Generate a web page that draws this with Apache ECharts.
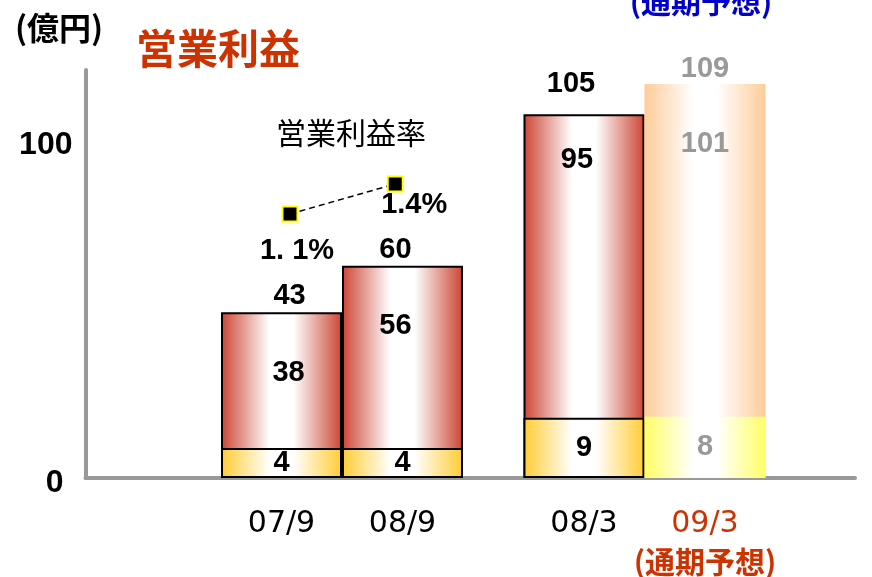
<!DOCTYPE html>
<html>
<head>
<meta charset="utf-8">
<script src="https://cdn.jsdelivr.net/npm/echarts@6/dist/echarts.min.js"></script>
<style>
  html, body { margin: 0; padding: 0; background: #fff; }
  #main { width: 872px; height: 577px; }
</style>
</head>
<body>
<div id="main"></div>
<script>
// 期間 (x 軸上の位置は 08/9 と 08/3 の間に半本分の空きがある)
const categories = ['07/9', '08/9', '08/3', '09/3']
const categoryPos = [0, 1, 2.5, 3.5]
const isForecast = [false, false, false, true]

// 棒の高さ (軸目盛りから読み取り)
const lowerHeights = [9.0, 9.0, 18.1, 18.4]
const upperHeights = [40.8, 54.7, 91.1, 99.9]

// 棒に書かれた数値
const lowerLabels = ['4', '4', '9', '8']
const upperLabels = ['38', '56', '95', '101']
const totalLabels = ['43', '60', '105', '109']

// 営業利益率
const marginValues = [1.1, 1.4]
const marginPos = [0.07, 0.94]
const marginLabels = ['1. 1%', '1.4%']

const yTicks = [0, 100]

const RED = '#CC3300'
const GRAY = '#999999'

function grad(edge) {
  return new echarts.graphic.LinearGradient(0, 0, 1, 0, [
    { offset: 0, color: edge },
    { offset: 0.4, color: '#ffffff' },
    { offset: 0.6, color: '#ffffff' },
    { offset: 1, color: edge }
  ])
}

const numFont = { fontFamily: '"Liberation Sans", Arial, sans-serif', fontWeight: 'bold', fontSize: 29, lineHeight: 29 }

// ラベルの微調整
const upperLabelStyle = [
  { distance: 46, offset: [7, 0] },
  { distance: 46, offset: [-7, 0] },
  { distance: 31, offset: [-7, 0] },
  { distance: 46, offset: [0, 0] }
]
const totalLabelStyle = [
  { distance: 2, offset: [8, 0] },
  { distance: 1, offset: [-7, 0] },
  { distance: 16, offset: [-13, 0] },
  { distance: 0, offset: [0, 0] }
]
const marginLabelOffset = [[7, 37], [19, 21]]

// 上段は合計の高さまで描き、その上に下段を重ねる
const totals = upperHeights.map((v, i) => v + lowerHeights[i])

const upperData = totals.map((v, i) => ({
  value: [categoryPos[i], v],
  itemStyle: isForecast[i]
    ? { color: grad('#FFCC99'), borderWidth: 0 }
    : { color: grad('#CC4433'), borderColor: '#000', borderWidth: 2 },
  label: Object.assign({ formatter: upperLabels[i], color: isForecast[i] ? GRAY : '#000' }, upperLabelStyle[i])
}))

const lowerData = lowerHeights.map((v, i) => ({
  value: [categoryPos[i], v],
  itemStyle: isForecast[i]
    ? { color: grad('#FFFF66'), borderWidth: 0 }
    : { color: grad('#FFCC33'), borderColor: '#000', borderWidth: 2 },
  label: { formatter: lowerLabels[i], color: isForecast[i] ? GRAY : '#000' }
}))

const totalData = totals.map((v, i) => ({
  value: [categoryPos[i], v],
  label: Object.assign({ formatter: totalLabels[i], color: isForecast[i] ? GRAY : '#000' }, totalLabelStyle[i])
}))

const marginData = marginValues.map((v, i) => ({
  value: [marginPos[i], v],
  label: { formatter: marginLabels[i], offset: marginLabelOffset[i] }
}))

const chart = echarts.init(document.getElementById('main'))

chart.setOption({
  animation: false,
  grid: { left: 85.5, right: 17, top: 70, bottom: 99 },
  xAxis: {
    type: 'value',
    min: -1.62,
    max: 4.74,
    splitLine: { show: false },
    axisTick: { show: false },
    axisLine: { show: true, onZero: false, lineStyle: { color: GRAY, width: 4 } },
    axisLabel: {
      customValues: categoryPos,
      margin: 32,
      formatter: (val) => {
        const i = categoryPos.indexOf(val)
        if (i < 0) return ''
        return isForecast[i] ? '{r|' + categories[i] + '}\n{rb|(通期予想)}' : '{n|' + categories[i] + '}'
      },
      rich: {
        n: { fontFamily: '"DejaVu Sans", sans-serif', fontSize: 30, lineHeight: 28, color: '#000' },
        r: { fontFamily: '"DejaVu Sans", sans-serif', fontSize: 30, lineHeight: 28, color: RED },
        rb: { fontFamily: '"Noto Sans CJK JP", sans-serif', fontWeight: 'bold', fontSize: 30, lineHeight: 48, color: RED }
      }
    }
  },
  yAxis: [{
    type: 'value',
    min: 0,
    max: 122.5,
    splitLine: { show: false },
    axisTick: { show: false },
    axisLine: { show: true, onZero: false, lineStyle: { color: GRAY, width: 4 } },
    axisLabel: {
      customValues: yTicks,
      margin: 13,
      formatter: (v) => (v === 0 ? '{z|' + v + '}' : '{h|' + v + '}'),
      rich: {
        h: Object.assign({ color: '#000' }, numFont, { fontSize: 32, lineHeight: 32 }),
        z: Object.assign({ color: '#000', padding: [10, 9, 0, 0] }, numFont, { fontSize: 32, lineHeight: 32 })
      }
    }
  }, {
    type: 'value',
    min: -1.54,
    max: 2.54,
    show: false
  }],
  series: [{
    name: '営業利益',
    type: 'bar',
    barWidth: 121,
    barGap: '-100%',
    label: Object.assign({ show: true, position: 'insideTop' }, numFont),
    data: upperData
  }, {
    name: '下段',
    type: 'bar',
    barWidth: 121,
    barGap: '-100%',
    z: 3,
    label: Object.assign({ show: true, position: 'inside' }, numFont),
    data: lowerData
  }, {
    name: '合計',
    type: 'scatter',
    symbolSize: 0,
    z: 4,
    itemStyle: { opacity: 1 },
    label: Object.assign({ show: true, position: 'top' }, numFont),
    data: totalData
  }, {
    name: '営業利益率',
    type: 'line',
    yAxisIndex: 1,
    z: 5,
    symbol: 'rect',
    symbolSize: 15,
    itemStyle: { color: '#000', borderColor: '#FFFF00', borderWidth: 2 },
    lineStyle: { color: '#000', width: 1.5, type: [6, 4] },
    label: Object.assign({ show: true, position: 'inside', color: '#000' }, numFont),
    data: marginData
  }],
  graphic: [{
    type: 'text', x: 15, y: 28,
    style: { text: '(億円)', font: 'bold 32px "Noto Sans CJK JP", sans-serif', fill: '#000', verticalAlign: 'middle' }
  }, {
    type: 'text', x: 136, y: 48,
    style: { text: '営業利益', font: 'bold 41px "Noto Sans CJK JP", sans-serif', fill: RED, verticalAlign: 'middle' }
  }, {
    type: 'text', x: 701, y: 2,
    style: { text: '(通期予想)', font: 'bold 30px "Noto Sans CJK JP", sans-serif', fill: '#0000CC', align: 'center', verticalAlign: 'middle' }
  }, {
    type: 'text', x: 351, y: 133,
    style: { text: '営業利益率', font: '30px "Noto Sans CJK JP", sans-serif', fill: '#000', align: 'center', verticalAlign: 'middle' }
  }]
})
</script>
</body>
</html>
